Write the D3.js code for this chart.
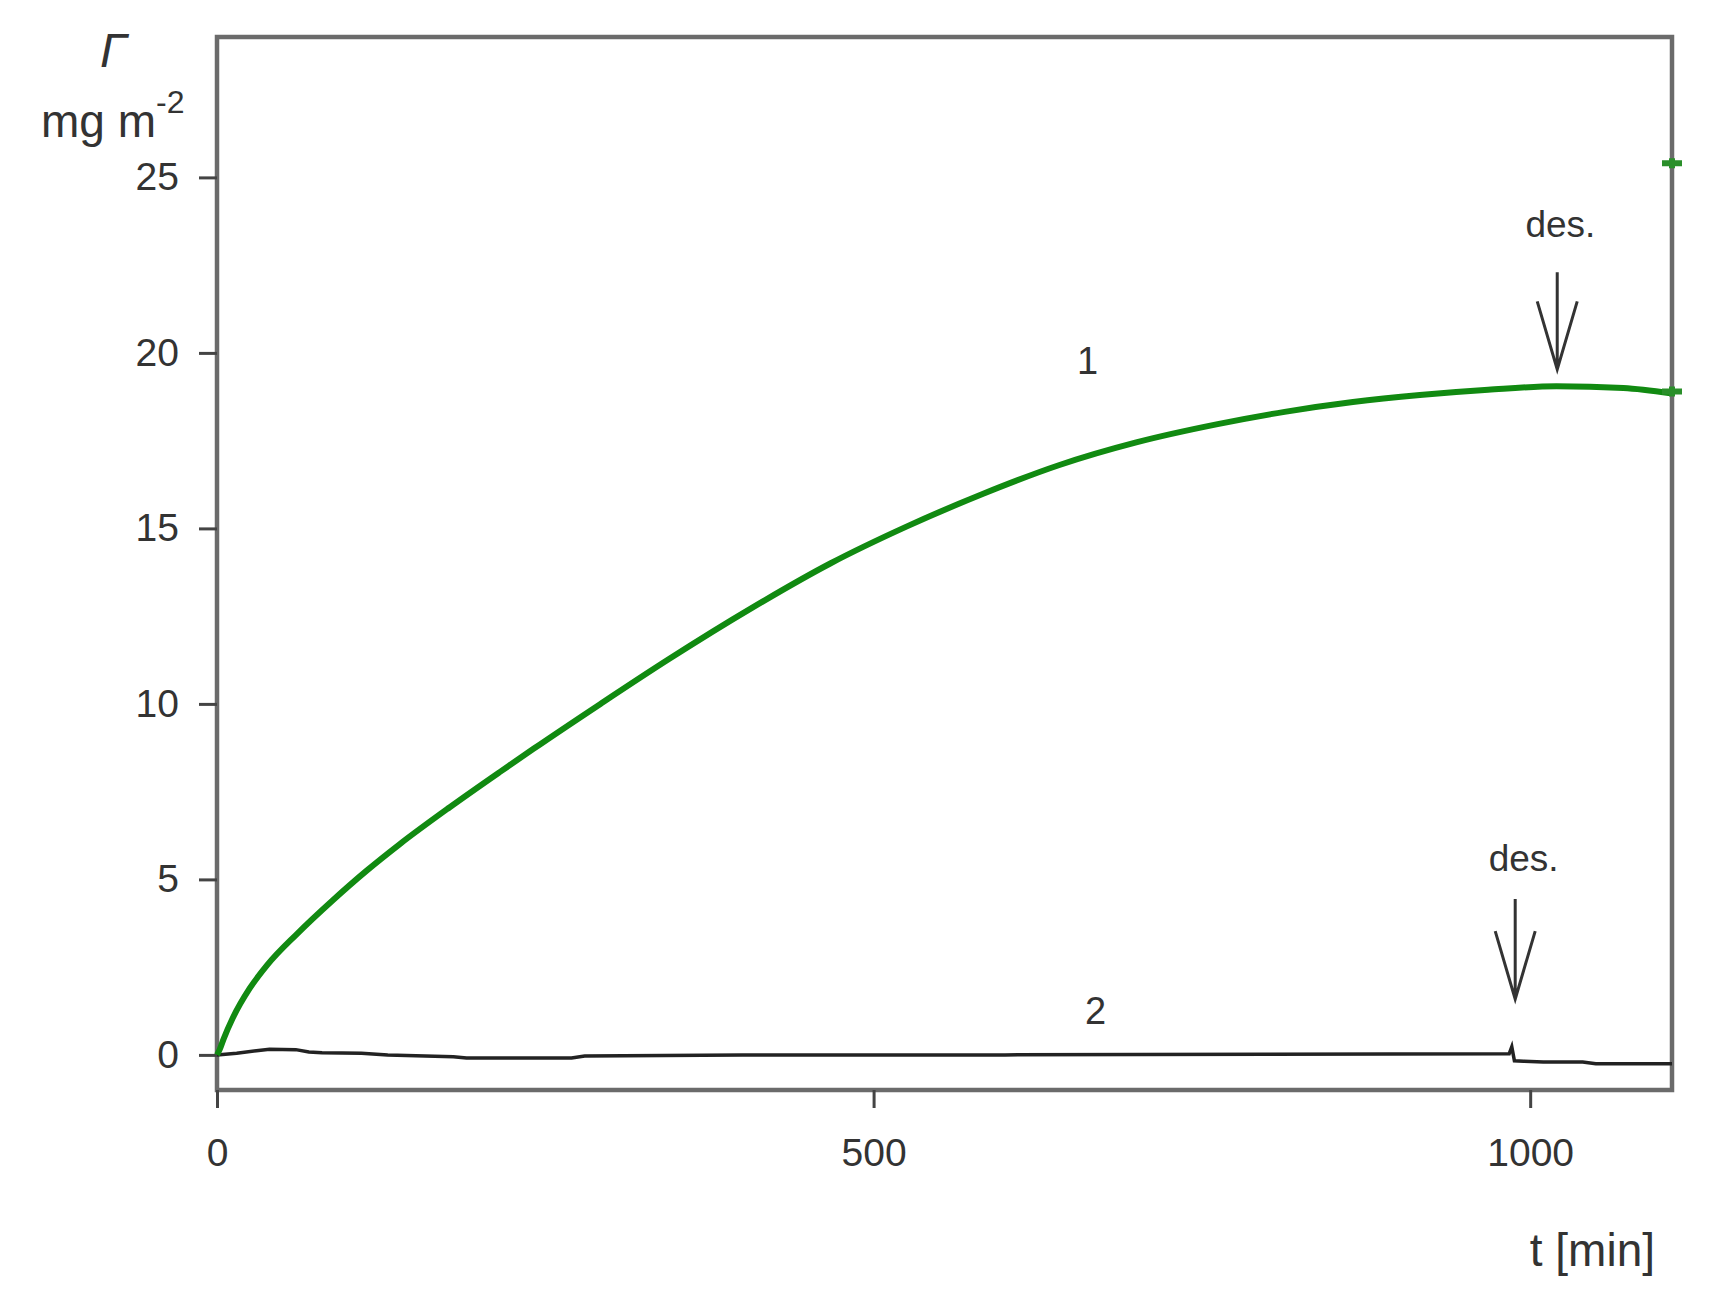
<!DOCTYPE html>
<html>
<head>
<meta charset="utf-8">
<script src="https://cdn.jsdelivr.net/npm/d3@7"></script>
<style>
  body { margin: 0; background: #fff; }
  text { font-family: "Liberation Sans", Arial, sans-serif; fill: #333; }
</style>
</head>
<body>
<script>
// curve 1 (green)
var t1 = [0, 2, 5, 12, 25, 38, 61, 88, 114, 139, 177, 215, 241, 292, 343, 408, 467, 525, 583, 641, 700, 762, 813, 865, 916, 968, 1020, 1071, 1107];
var g1 = [0, 0.15, 0.45, 1.05, 1.9, 2.55, 3.45, 4.4, 5.25, 6.0, 7.05, 8.05, 8.72, 10.0, 11.25, 12.75, 14.0, 15.05, 15.98, 16.8, 17.45, 17.97, 18.32, 18.6, 18.8, 18.95, 19.05, 19.0, 18.85];
// curve 2 (black)
var t2 = [0, 15, 30, 40, 60, 70, 80, 110, 130, 180, 190, 270, 280, 400, 600, 800, 984, 986, 988, 995, 1010, 1040, 1050, 1108];
var g2 = [0, 0.05, 0.12, 0.16, 0.15, 0.08, 0.06, 0.05, 0.0, -0.05, -0.09, -0.09, -0.03, 0, 0, 0.02, 0.03, 0.23, -0.17, -0.18, -0.2, -0.2, -0.25, -0.25];
// stray green points on the right border
var strayT = [1108, 1108];
var strayG = [25.4, 18.9];

var xTicks = [0, 500, 1000];
var yTicks = [0, 5, 10, 15, 20, 25];

// desorption arrows: time, arrow top, arrow tip, label position
var desT = [1020.6, 988.6];
var desTop = [22.3, 4.44];
var desTip = [19.53, 1.59];
var desLabelT = [1023, 995];
var desLabelG = [23.3, 5.24];

var width = 1718, height = 1312;
var margin = {left: 217, top: 37, right: 46, bottom: 222};

var svg = d3.select("body").append("svg")
    .attr("width", width)
    .attr("height", height);

var x = d3.scaleLinear().domain([0, 1108]).range([margin.left, width - margin.right]);
var y = d3.scaleLinear().domain([-1, 29]).range([height - margin.bottom, margin.top]);

// frame
svg.append("rect")
    .attr("x", x(0)).attr("y", y(29))
    .attr("width", x(1108) - x(0)).attr("height", y(-1) - y(29))
    .attr("fill", "none")
    .attr("stroke", "#6b6b6b")
    .attr("stroke-width", 4.5);

var xAxis = svg.append("g")
    .attr("transform", "translate(0," + y(-1) + ")")
    .call(d3.axisBottom(x).tickValues(xTicks).tickFormat(d3.format("d")).tickSize(18).tickPadding(30));
var yAxis = svg.append("g")
    .attr("transform", "translate(" + x(0) + ",0)")
    .call(d3.axisLeft(y).tickValues(yTicks).tickSize(18).tickPadding(20));

[xAxis, yAxis].forEach(function(a) {
  a.select(".domain").remove();
  a.selectAll(".tick line").attr("stroke", "#444").attr("stroke-width", 3);
  a.selectAll(".tick text")
      .style("font-family", "'Liberation Sans', Arial, sans-serif")
      .style("font-size", "39px")
      .attr("fill", "#333");
});

// curves
var line = d3.line()
    .x(function(d) { return x(d[0]); })
    .y(function(d) { return y(d[1]); });

svg.append("path")
    .datum(t2.map(function(t, i) { return [t, g2[i]]; }))
    .attr("fill", "none")
    .attr("stroke", "#222")
    .attr("stroke-width", 3.5)
    .attr("d", line.curve(d3.curveLinear));

svg.append("path")
    .datum(t1.map(function(t, i) { return [t, g1[i]]; }))
    .attr("fill", "none")
    .attr("stroke", "#118a11")
    .attr("stroke-width", 6)
    .attr("d", line.curve(d3.curveMonotoneX));

svg.selectAll(".stray")
    .data(strayT.map(function(t, i) { return [t, strayG[i]]; }))
  .enter().append("path")
    .attr("class", "stray")
    .attr("d", function(d) {
      var px = x(d[0]), py = y(d[1]);
      return "M" + (px - 10) + "," + py + "H" + (px + 10) + "M" + px + "," + (py - 5) + "V" + (py + 5);
    })
    .attr("stroke", "#2a8f2a")
    .attr("stroke-width", 6);

// arrows
desT.forEach(function(t, i) {
  var px = x(t), top = y(desTop[i]), tip = y(desTip[i]);
  svg.append("path")
      .attr("d", "M" + px + "," + top + "V" + tip +
                 "M" + (px - 20) + "," + (tip - 68) + "L" + px + "," + tip +
                 "L" + (px + 20) + "," + (tip - 68))
      .attr("fill", "none")
      .attr("stroke", "#333")
      .attr("stroke-width", 3);
  svg.append("text")
      .attr("x", x(desLabelT[i]))
      .attr("y", y(desLabelG[i]))
      .attr("text-anchor", "middle")
      .style("font-size", "37px")
      .text("des.");
});

// curve labels
svg.append("text").attr("x", x(663)).attr("y", y(19.4))
    .attr("text-anchor", "middle").style("font-size", "38px").text("1");
svg.append("text").attr("x", x(669)).attr("y", y(0.88))
    .attr("text-anchor", "middle").style("font-size", "38px").text("2");

// axis titles
svg.append("text")
    .attr("x", 100).attr("y", 67)
    .style("font-size", "48px")
    .style("font-style", "italic")
    .text("Γ");

var unit = svg.append("text")
    .attr("x", 41).attr("y", 137)
    .style("font-size", "46px");
unit.append("tspan").text("mg m");
unit.append("tspan").attr("dy", -24).style("font-size", "32px").text("-2");

svg.append("text")
    .attr("x", 1655).attr("y", 1266)
    .attr("text-anchor", "end")
    .style("font-size", "46px")
    .text("t [min]");
</script>
</body>
</html>
